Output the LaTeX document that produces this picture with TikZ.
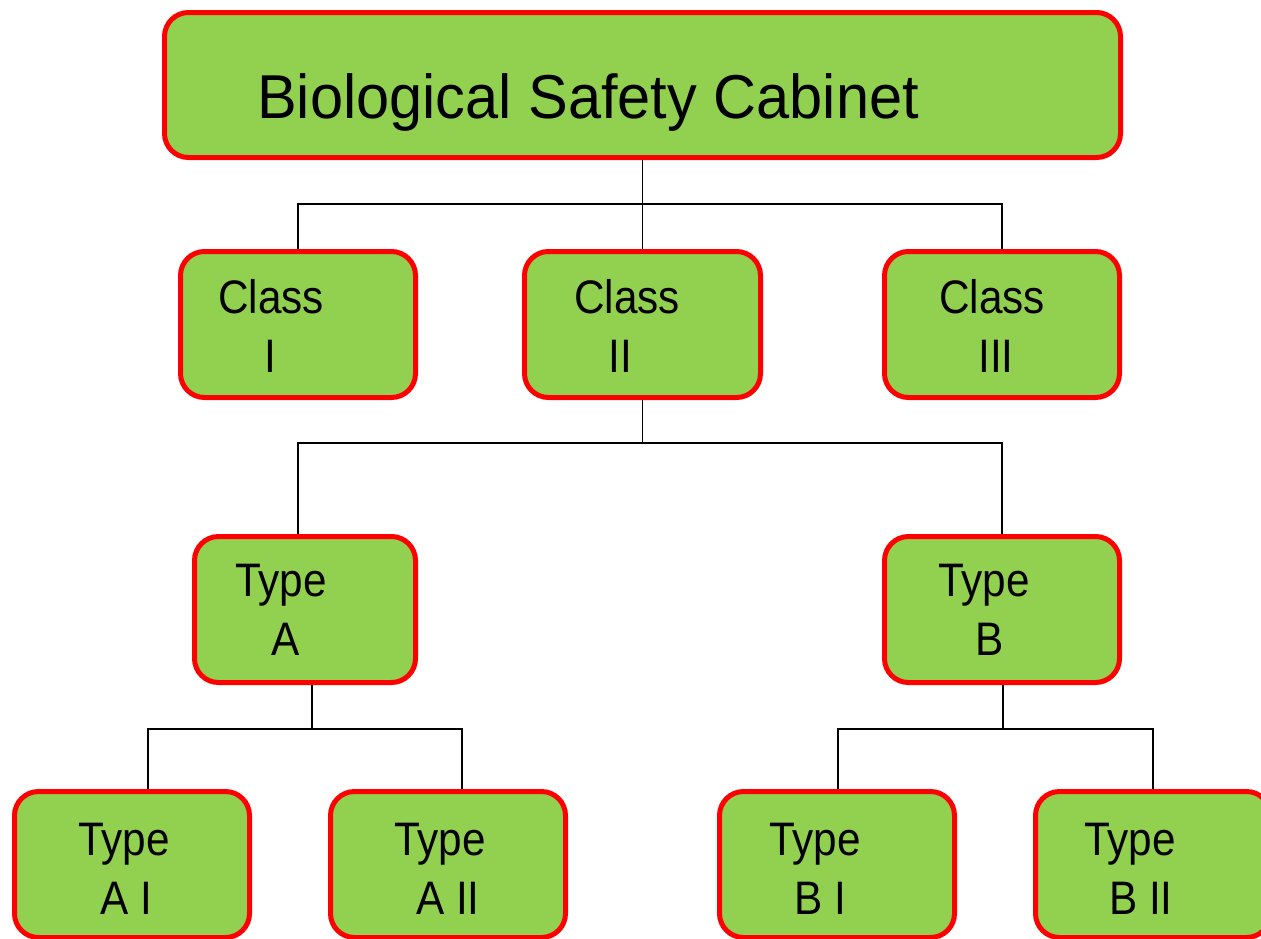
\documentclass[tikz,border=0pt]{standalone}
\usepackage{fontspec}
\setmainfont{Liberation Sans}
\newfontfamily\boxfont[FakeStretch=0.9]{Liberation Sans}
\newfontfamily\titlefont[FakeStretch=0.96]{Liberation Sans}
\usetikzlibrary{backgrounds}
\definecolor{boxgreen}{HTML}{92D050}
\definecolor{boxred}{HTML}{FF0000}
\begin{document}
\begin{tikzpicture}[x=1pt,y=-1pt,
  box/.style={draw=boxred, line width=5pt, fill=boxgreen, rounded corners=24pt,
    minimum width=235pt, minimum height=146pt, inner sep=0pt},
  conn/.style={draw=black, line width=1.6pt},
  lbl/.style={anchor=base, inner sep=0pt, font=\boxfont\fontsize{47}{56}\selectfont},
  ttl/.style={anchor=base west, inner sep=0pt, font=\titlefont\fontsize{62}{70}\selectfont}]
\useasboundingbox (0,0) rectangle (1261,938);
\clip (0,0) rectangle (1261,938);

% boxes
\node[box, minimum width=956pt, minimum height=145pt] (top) at (642.5,85) {};
\node[box] (c1) at (298,324.5) {};
\node[box, minimum width=236pt] (c2) at (642.5,324.5) {};
\node[box] (c3) at (1002,324.5) {};
\node[box, minimum width=221pt] (tA) at (305,609.5) {};
\node[box] (tB) at (1002,609.5) {};
\node[box] (a1) at (132,864.5) {};
\node[box] (a2) at (448,864.5) {};
\node[box] (b1) at (837,864.5) {};
\node[box] (b2) at (1153,864.5) {};

% labels
\node[ttl] (ttop) at (257,118) {Biological Safety Cabinet};
\node[lbl] (lc1a) at (271,313) {Class};
\node[lbl] (lc1b) at (270,372) {I};
\node[lbl] (lc2a) at (627,313) {Class};
\node[lbl] (lc2b) at (620,372) {II};
\node[lbl] (lc3a) at (992,313) {Class};
\node[lbl] (lc3b) at (996,372) {III};
\node[lbl] (ltAa) at (281,596) {Type};
\node[lbl] (ltAb) at (286,655) {A};
\node[lbl] (ltBa) at (984,596) {Type};
\node[lbl] (ltBb) at (990,655) {B};
\node[lbl] (la1a) at (124,855) {Type};
\node[lbl] (la1b) at (126,914) {A I};
\node[lbl] (la2a) at (440,855) {Type};
\node[lbl] (la2b) at (448,914) {A II};
\node[lbl] (lb1a) at (815,855) {Type};
\node[lbl] (lb1b) at (820,914) {B I};
\node[lbl] (lb2a) at (1130,855) {Type};
\node[lbl] (lb2b) at (1141,914) {B II};

% connectors
\coordinate (bus1) at (643,204);
\coordinate (bus2) at (643,443);
\coordinate (bus3) at (312,729);
\coordinate (bus4) at (1003,729);
\begin{pgfonlayer}{background}
\draw[conn] (top.south) -- (c2.north);
\draw[conn] (c1.north) |- (c3.north |- bus1) -- (c3.north);
\draw[conn] (c2.south) -- (c2.south |- bus2);
\draw[conn] ([xshift=-7pt]tA.north) |- (tB.north |- bus2) -- (tB.north);
\draw[conn] ([xshift=7pt]tA.south) -- (bus3);
\draw[conn] ([xshift=16pt]a1.north) |- ([xshift=14pt]a2.north |- bus3) -- ([xshift=14pt]a2.north);
\draw[conn] ([xshift=1pt]tB.south) -- (bus4);
\draw[conn] ([xshift=1pt]b1.north) |- (b2.north |- bus4) -- (b2.north);
\end{pgfonlayer}
\end{tikzpicture}
\end{document}
